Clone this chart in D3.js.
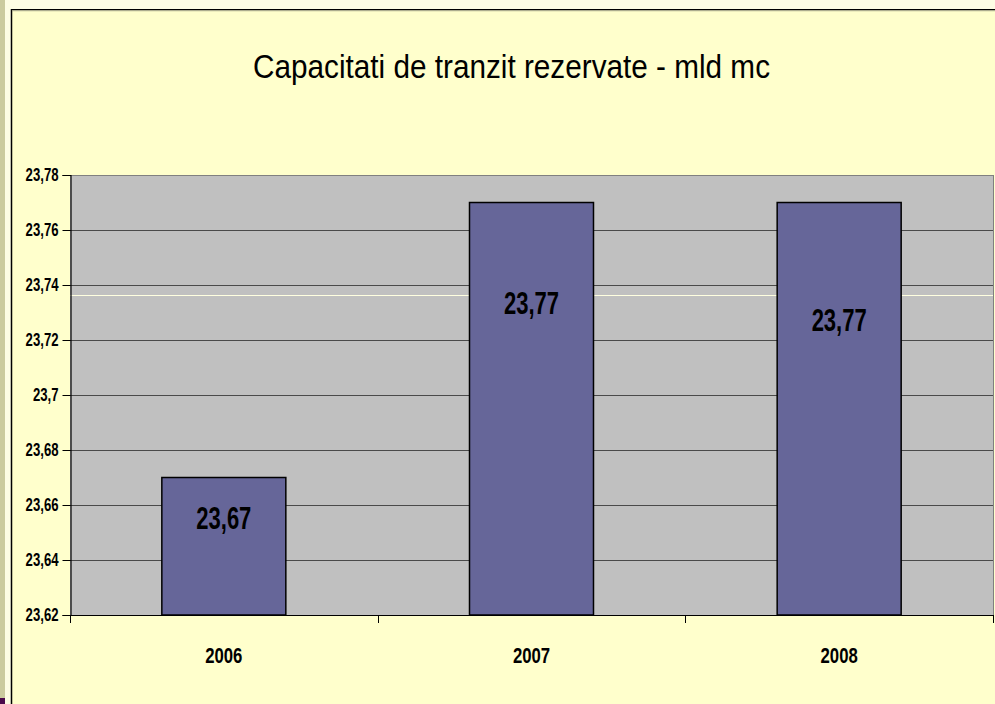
<!DOCTYPE html>
<html>
<head>
<meta charset="utf-8">
<script src="https://cdn.jsdelivr.net/npm/d3@7"></script>
<style>
  html, body { margin: 0; padding: 0; background: #FFFFCC; }
  svg { display: block; }
  .narrow { font-family: "Liberation Sans Narrow", "Arial Narrow", "Liberation Sans", Arial, sans-serif; }
</style>
</head>
<body>
<svg id="chart" width="995" height="704"></svg>
<script>
// ---- data ----
const categories = ["2006", "2007", "2008"];
const values = [23.67, 23.77, 23.77];
const valueLabels = ["23,67", "23,77", "23,77"];
const tickValues = [23.62, 23.64, 23.66, 23.68, 23.70, 23.72, 23.74, 23.76, 23.78];
const tickLabels = ["23,62", "23,64", "23,66", "23,68", "23,7", "23,72", "23,74", "23,76", "23,78"];
const titleText = "Capacitati de tranzit rezervate - mld mc";

// ---- layout ----
const W = 995, H = 704;
const plot = { left: 70, top: 175, right: 993, bottom: 615 };
const svg = d3.select("#chart");

// horizontally condense text (emulates a narrow typeface)
function condense(sel, f) {
  sel.each(function () {
    const w = this.getComputedTextLength();
    d3.select(this).attr("textLength", w * f).attr("lengthAdjust", "spacingAndGlyphs");
  });
}

// slide background / edge decoration
svg.append("rect").attr("x", 0).attr("y", 0).attr("width", W).attr("height", H).attr("fill", "#FFFFCC");
svg.append("rect").attr("x", 0).attr("y", 0).attr("width", 5).attr("height", H).attr("fill", "#CBCB9F");
svg.append("rect").attr("x", 5).attr("y", 0).attr("width", 6).attr("height", H).attr("fill", "#FDFDE4");
svg.append("rect").attr("x", 11).attr("y", 0).attr("width", W - 11).attr("height", 9).attr("fill", "#FDFDE4");
svg.append("rect").attr("x", 0).attr("y", 698).attr("width", 5).attr("height", 6).attr("fill", "#4B0A4B");

// chart area border
svg.append("line").attr("x1", 11.5).attr("x2", 11.5).attr("y1", 9).attr("y2", H).attr("stroke", "#000").attr("stroke-width", 1.5);
svg.append("line").attr("x1", 11).attr("x2", W).attr("y1", 9.5).attr("y2", 9.5).attr("stroke", "#000").attr("stroke-width", 1.2);
svg.append("line").attr("x1", 12).attr("x2", W).attr("y1", 10.7).attr("y2", 10.7).attr("stroke", "#9a9a80").attr("stroke-width", 1);

// title
svg.append("text").attr("class", "narrow")
  .attr("x", 511.5).attr("y", 78)
  .attr("text-anchor", "middle")
  .attr("font-size", 33)
  .attr("textLength", 517).attr("lengthAdjust", "spacingAndGlyphs")
  .attr("fill", "#000")
  .text(titleText);

// scales
const x = d3.scaleBand().domain(categories).range([plot.left, plot.right]).padding(0);
const y = d3.scaleLinear().domain([23.62, 23.78]).range([plot.bottom, plot.top]);

// plot area
svg.append("rect")
  .attr("x", plot.left).attr("y", plot.top)
  .attr("width", plot.right - plot.left).attr("height", plot.bottom - plot.top)
  .attr("fill", "#C0C0C0");

// gridlines
svg.append("g").selectAll("line").data(tickValues.slice(1)).join("line")
  .attr("x1", plot.left).attr("x2", plot.right)
  .attr("y1", d => Math.round(y(d)) + 0.5).attr("y2", d => Math.round(y(d)) + 0.5)
  .attr("stroke", d => d === 23.78 ? "#808080" : "#4a4a4a").attr("stroke-width", 1);

// stray light line in the original
svg.append("line")
  .attr("x1", plot.left).attr("x2", plot.right)
  .attr("y1", Math.round(y(23.7364)) + 0.5).attr("y2", Math.round(y(23.7364)) + 0.5)
  .attr("stroke", "#FFFFE0").attr("stroke-width", 1);

// right border of plot
svg.append("line").attr("x1", plot.right + 0.5).attr("x2", plot.right + 0.5)
  .attr("y1", plot.top).attr("y2", plot.bottom).attr("stroke", "#808080");

// bars
const barW = x.bandwidth() * 0.403;
svg.append("g").selectAll("rect").data(values).join("rect")
  .attr("x", (d, i) => x(categories[i]) + (x.bandwidth() - barW) / 2)
  .attr("y", d => y(d))
  .attr("width", barW)
  .attr("height", d => plot.bottom - y(d))
  .attr("fill", "#666699")
  .attr("stroke", "#000").attr("stroke-width", 1.5);

// value labels
const labelExtra = [0, 0, 17];
const vl = svg.append("g").selectAll("text").data(values).join("text")
  .attr("class", "narrow")
  .attr("x", (d, i) => x(categories[i]) + x.bandwidth() / 2)
  .attr("y", (d, i) => {
    const h = plot.bottom - y(d);
    return y(d) + 21.5 + 0.218 * h + labelExtra[i];
  })
  .attr("text-anchor", "middle")
  .attr("font-size", 31).attr("font-weight", "bold")
  .attr("fill", "#000")
  .text((d, i) => valueLabels[i]);
condense(vl, 0.71);

// y axis
const yAxis = d3.axisLeft(y).tickValues(tickValues)
  .tickFormat((d, i) => tickLabels[i]).tickSize(8).tickPadding(4);
const gy = svg.append("g").attr("transform", `translate(${plot.left + 0.5},0)`).call(yAxis);
gy.select(".domain").attr("stroke", "#000").attr("stroke-width", 1.2);
gy.selectAll(".tick line").attr("stroke", "#000");
const yt = gy.selectAll(".tick text").attr("class", "narrow")
  .attr("font-size", 18).attr("font-weight", "bold").attr("fill", "#000")
  .attr("font-family", null);
condense(yt, 0.73);

// x axis
const gx = svg.append("g");
gx.append("line").attr("x1", plot.left).attr("x2", plot.right + 1)
  .attr("y1", plot.bottom + 0.5).attr("y2", plot.bottom + 0.5)
  .attr("stroke", "#000").attr("stroke-width", 1.2);
const bounds = categories.map(c => x(c)).concat([x(categories[categories.length - 1]) + x.bandwidth()]);
gx.selectAll("line.tk").data(bounds).join("line").attr("class", "tk")
  .attr("x1", d => Math.round(d) + 0.5).attr("x2", d => Math.round(d) + 0.5)
  .attr("y1", plot.bottom).attr("y2", plot.bottom + 8)
  .attr("stroke", "#000");
const xt = gx.selectAll("text").data(categories).join("text")
  .attr("class", "narrow")
  .attr("x", d => x(d) + x.bandwidth() / 2)
  .attr("y", 663)
  .attr("text-anchor", "middle")
  .attr("font-size", 22).attr("font-weight", "bold")
  .attr("fill", "#000")
  .text(d => d);
condense(xt, 0.76);
</script>
</body>
</html>
